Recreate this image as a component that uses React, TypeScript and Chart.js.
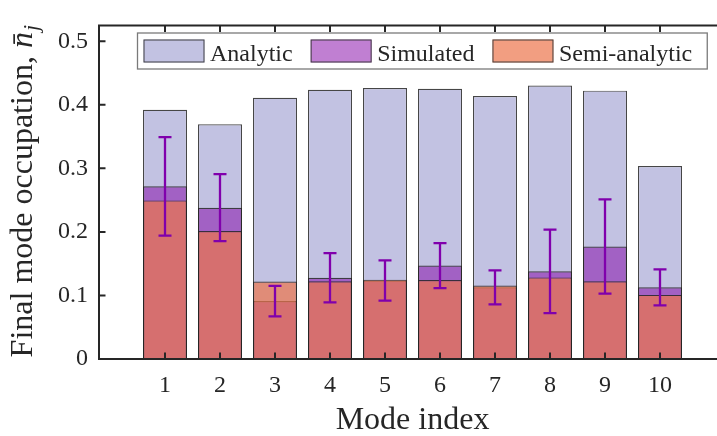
import { useEffect, useRef } from 'react';
import { Chart, registerables } from 'chart.js';

Chart.register(...registerables);

// ---- data ----
const modes = [1, 2, 3, 4, 5, 6, 7, 8, 9, 10];
const modeLabels = ['1', '2', '3', '4', '5', '6', '7', '8', '9', '10'];
const analytic = [0.3923, 0.3694, 0.4111, 0.4238, 0.4264, 0.4253, 0.4137, 0.4305, 0.4223, 0.3037];
const simulated = [0.2717, 0.2381, 0.0912, 0.1279, 0.1235, 0.147, 0.1128, 0.138, 0.177, 0.1128];
const simulatedError = [0.0774, 0.0527, 0.024, 0.0388, 0.0316, 0.0354, 0.0268, 0.0657, 0.0741, 0.0283];
const semiAnalytic = [0.2496, 0.2013, 0.1218, 0.1223, 0.1249, 0.1243, 0.1157, 0.1284, 0.1223, 0.1009];
const yTickValues = [0, 0.1, 0.2, 0.3, 0.4, 0.5];
const yTickLabels = ['0', '0.1', '0.2', '0.3', '0.4', '0.5'];
const seriesNames = ['Analytic', 'Simulated', 'Semi-analytic'];

// ---- styles ----
const FONT = '"Liberation Serif", "Times New Roman", serif';
const AXIS = '#262626';
const COL_ANALYTIC = 'rgb(194,194,226)';
const COL_SIM = 'rgba(129,0,165,0.5)';
const COL_SEMI = 'rgba(237,117,75,0.7)';
const COL_ERR = 'rgb(128,0,172)';
const EDGE = 'rgba(38,38,38,0.85)';

const overlayPlugin = {
  id: 'overlay',
  afterDatasetsDraw(chart: any) {
    const { ctx, chartArea, scales } = chart;
    const { left, right, top, bottom } = chartArea;
    const x = scales.x;
    const y = scales.y;
    ctx.save();
    // error bars of the simulated series
    ctx.strokeStyle = COL_ERR;
    ctx.lineWidth = 2.3;
    ctx.lineCap = 'butt';
    const cap = 6.5;
    modes.forEach((m, i) => {
      const px = x.getPixelForValue(m);
      const hi = y.getPixelForValue(simulated[i] + simulatedError[i]);
      const lo = y.getPixelForValue(simulated[i] - simulatedError[i]);
      ctx.beginPath();
      ctx.moveTo(px, hi);
      ctx.lineTo(px, lo);
      ctx.moveTo(px - cap, hi);
      ctx.lineTo(px + cap, hi);
      ctx.moveTo(px - cap, lo);
      ctx.lineTo(px + cap, lo);
      ctx.stroke();
    });
    // axes box (left, bottom, top)
    ctx.strokeStyle = AXIS;
    ctx.lineWidth = 2;
    ctx.beginPath();
    ctx.moveTo(right + 2, top);
    ctx.lineTo(left, top);
    ctx.lineTo(left, bottom);
    ctx.lineTo(right + 2, bottom);
    ctx.stroke();
    // inward ticks
    const tl = 6.5;
    ctx.beginPath();
    x.ticks.forEach((t: any) => {
      const px = x.getPixelForValue(t.value);
      ctx.moveTo(px, bottom);
      ctx.lineTo(px, bottom - tl);
      ctx.moveTo(px, top);
      ctx.lineTo(px, top + tl);
    });
    y.ticks.forEach((t: any) => {
      const py = y.getPixelForValue(t.value);
      ctx.moveTo(left, py);
      ctx.lineTo(left + tl, py);
    });
    ctx.stroke();
    ctx.restore();
  },
  afterDraw(chart: any) {
    const { ctx, chartArea } = chart;
    ctx.save();
    // ---- legend box ----
    const boxLeft = 137.5;
    const boxTop = 33;
    const boxH = 36;
    const swW = 61;
    const swH = 23;
    ctx.font = `24px ${FONT}`;
    ctx.textBaseline = 'alphabetic';
    ctx.textAlign = 'left';
    let cx = boxLeft + 6;
    const items = chart.data.datasets.map((ds: any) => ({ label: ds.label, color: ds.backgroundColor }));
    const pos: any[] = [];
    items.forEach((it: any) => {
      const w = ctx.measureText(it.label).width;
      pos.push({ sx: cx, tx: cx + swW + 5.5, w });
      cx = cx + swW + 5.5 + w + 18;
    });
    const last = pos[pos.length - 1];
    const boxRight = last.tx + last.w + 15;
    ctx.fillStyle = '#ffffff';
    ctx.fillRect(boxLeft, boxTop, boxRight - boxLeft, boxH);
    ctx.strokeStyle = '#7a7a7a';
    ctx.lineWidth = 1.3;
    ctx.strokeRect(boxLeft, boxTop, boxRight - boxLeft, boxH);
    items.forEach((it: any, i: number) => {
      const p = pos[i];
      ctx.fillStyle = it.color;
      ctx.fillRect(p.sx, boxTop + 6.5, swW, swH);
      ctx.strokeStyle = 'rgba(50,50,50,0.9)';
      ctx.lineWidth = 1;
      ctx.strokeRect(p.sx + 0.5, boxTop + 6.5 + 0.5, swW - 1, swH - 1);
      ctx.fillStyle = AXIS;
      ctx.fillText(it.label, p.tx, boxTop + 27.5);
    });
    // ---- y axis title with math part ----
    const cy = (chartArea.top + chartArea.bottom) / 2 - 1;
    ctx.translate(32, cy);
    ctx.rotate(-Math.PI / 2);
    const main = 'Final mode occupation, ';
    ctx.font = `32px ${FONT}`;
    const w1 = ctx.measureText(main).width;
    ctx.font = `italic 32px ${FONT}`;
    const w2 = ctx.measureText('n').width;
    ctx.font = `italic 22px ${FONT}`;
    const w3 = ctx.measureText('j').width;
    const total = w1 + w2 + w3 + 1;
    const sx = -total / 2;
    ctx.fillStyle = AXIS;
    ctx.font = `32px ${FONT}`;
    ctx.fillText(main, sx, 0);
    ctx.font = `italic 32px ${FONT}`;
    ctx.fillText('n\u0304', sx + w1, 0);
    ctx.font = `italic 22px ${FONT}`;
    ctx.fillText('j', sx + w1 + w2 + 1, 6);
    ctx.restore();
  },
};

export default function App() {
  const ref = useRef<HTMLCanvasElement | null>(null);

  useEffect(() => {
    if (!ref.current) return;
    const mk = (vals: number[]) => modes.map((m, i) => ({ x: m, y: vals[i] }));
    const common = {
      grouped: false,
      barPercentage: 0.8,
      categoryPercentage: 1,
      borderColor: EDGE,
      borderWidth: 1.2,
    };
    const chart = new Chart(ref.current, {
      type: 'bar',
      data: {
        datasets: [
          { ...common, label: seriesNames[0], data: mk(analytic), backgroundColor: COL_ANALYTIC, order: 3 },
          { ...common, label: seriesNames[1], data: mk(simulated), backgroundColor: COL_SIM, order: 2 },
          { ...common, label: seriesNames[2], data: mk(semiAnalytic), backgroundColor: COL_SEMI, order: 1 },
        ],
      } as any,
      options: {
        responsive: false,
        animation: false,
        devicePixelRatio: 1,
        layout: { padding: { top: 15.5, left: 0, right: 0, bottom: 0 } },
        plugins: {
          legend: { display: false },
          tooltip: { enabled: false },
        },
        scales: {
          x: {
            type: 'linear',
            min: -0.2,
            max: 11.2,
            offset: false,
            grid: { display: false, drawTicks: false },
            border: { display: false },
            afterBuildTicks: (s: any) => {
              s.ticks = modes.map((v) => ({ value: v }));
            },
            afterFit: (s: any) => {
              s.height = 77;
            },
            ticks: {
              autoSkip: false,
              maxRotation: 0,
              padding: 12,
              color: AXIS,
              font: { family: FONT, size: 24 },
              callback: (_v: any, i: number) => modeLabels[i],
            },
            title: {
              display: true,
              text: 'Mode index',
              color: AXIS,
              font: { family: FONT, size: 32, lineHeight: 1 },
              padding: { top: 0, bottom: -1 },
            },
          },
          y: {
            type: 'linear',
            min: 0,
            max: 0.525,
            grid: { display: false, drawTicks: false },
            border: { display: false },
            afterBuildTicks: (s: any) => {
              s.ticks = yTickValues.map((v) => ({ value: v }));
            },
            afterFit: (s: any) => {
              s.width = 99;
            },
            ticks: {
              padding: 11,
              color: AXIS,
              font: { family: FONT, size: 24 },
              callback: (_v: any, i: number) => yTickLabels[i],
            },
          },
        },
      } as any,
      plugins: [overlayPlugin],
    });
    return () => chart.destroy();
  }, []);

  return (
    <div
      style={{
        position: 'fixed',
        left: 0,
        top: 0,
        width: 717,
        height: 436,
        overflow: 'hidden',
        background: '#fff',
      }}
    >
      <canvas ref={ref} width={726} height={436} style={{ display: 'block', width: 726, height: 436 }} />
    </div>
  );
}
